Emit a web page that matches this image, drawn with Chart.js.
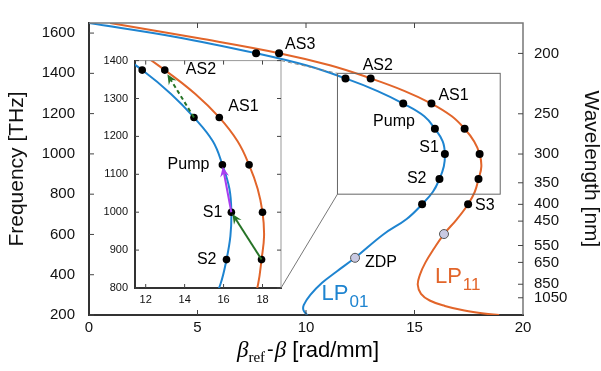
<!DOCTYPE html>
<html>
<head>
<meta charset="utf-8">
<script src="https://cdn.jsdelivr.net/npm/chart.js@4.4.0/dist/chart.umd.min.js"></script>
<style>
  html, body { margin: 0; padding: 0; background: #fff; overflow: hidden; }
  #wrap { position: relative; width: 601px; height: 371px; }
  #mainChart { position: absolute; left: 0; top: 0; }
  #insetChart { position: absolute; left: 95px; top: 47px; }
</style>
</head>
<body>
<div id="wrap">
  <canvas id="mainChart" width="601" height="371"></canvas>
  <canvas id="insetChart" width="195" height="265"></canvas>
</div>
<script>
// frequency lines (THz) where the black dots sit
const lineNames = ['S3', 'S2', 'S1', 'Pump', 'AS1', 'AS2', 'AS3'];
const lineFreq = [750, 875, 1000, 1125, 1250, 1375, 1500];
const lp01DotBeta = [15.35, 16.15, 16.4, 15.94, 14.48, 11.82, 7.7];
const lp11DotBeta = [17.47, 17.95, 18.0, 17.31, 15.78, 12.98, 8.76];

// LP01 dispersion curve
const lp01Beta = [0, 4, 7.7, 10.0, 11.82, 13.3, 14.48, 15.45, 15.94, 16.3, 16.4, 16.35, 16.15, 15.85, 15.35,
                  14.64, 13.56, 12.26, 11.4, 10.74, 10.2, 9.9, 9.88, 10.05];
const lp01Freq = [1650, 1581, 1500, 1440, 1375, 1312, 1250, 1187, 1125, 1062, 1000, 937, 875, 812, 750,
                  677, 600, 484, 415, 360, 300, 250, 225, 200];

// LP11 dispersion curve
const lp11Beta = [0.97, 5, 8.76, 11.1, 12.98, 14.55, 15.78, 16.72, 17.31, 17.75, 18.0, 18.08, 17.95, 17.78, 17.47,
                  16.95, 16.36, 15.9, 15.5, 15.25, 15.15, 15.3, 15.7, 16.4, 17.3, 18.2, 18.9];
const lp11Freq = [1650, 1575, 1500, 1440, 1375, 1312, 1250, 1187, 1125, 1062, 1000, 937, 875, 812, 750,
                  675, 602, 530, 460, 400, 350, 305, 272, 245, 222, 207, 200];

// zero dispersion points
const zdpBeta = [12.26, 16.36];
const zdpFreq = [484, 602];

// axes
const xTicks = [0, 5, 10, 15, 20];
const yTicks = [200, 400, 600, 800, 1000, 1200, 1400, 1600];
const wavelengthTicks = [200, 250, 300, 350, 400, 450, 550, 650, 850, 1050];
const insetXTicks = [12, 14, 16, 18];
const insetYTicks = [800, 900, 1000, 1100, 1200, 1300, 1400];
const insetRange = { xMin: 11.45, xMax: 18.95, yMin: 800, yMax: 1400 };

const C_NM_THZ = 299792.458;
const BLUE = '#1e84d0';
const ORANGE = '#e2652a';
const GREEN = '#267326';
const PURPLE = '#a83ef0';
const SANS = '"Liberation Sans", Arial, sans-serif';
const SERIF = '"Liberation Serif", "Times New Roman", serif';

Chart.defaults.font.family = SANS;
Chart.defaults.color = '#111';

const toPts = (xs, ys) => xs.map((x, i) => ({ x: x, y: ys[i] }));
const plain = v => String(v);

function curveSets(dotRadius) {
    return [
        { data: toPts(zdpBeta, zdpFreq), showLine: false, pointRadius: dotRadius + 0.5,
          pointBackgroundColor: '#c9c9e2', pointBorderColor: '#555', pointBorderWidth: 1 },
        { data: toPts(lp01DotBeta, lineFreq), showLine: false, pointRadius: dotRadius,
          pointBackgroundColor: '#000', pointBorderWidth: 0 },
        { data: toPts(lp11DotBeta, lineFreq), showLine: false, pointRadius: dotRadius,
          pointBackgroundColor: '#000', pointBorderWidth: 0 },
        { data: toPts(lp01Beta, lp01Freq), showLine: true, pointRadius: 0, borderColor: BLUE,
          borderWidth: 2, tension: 0.4 },
        { data: toPts(lp11Beta, lp11Freq), showLine: true, pointRadius: 0, borderColor: ORANGE,
          borderWidth: 2, tension: 0.4 }
    ];
}

// short tick marks pointing into the plot
function inTick(ctx, x1, y1, x2, y2) {
    ctx.beginPath();
    ctx.moveTo(x1, y1);
    ctx.lineTo(x2, y2);
    ctx.stroke();
}

function drawLabel(ctx, text, px, py, dx, dy, align, font) {
    ctx.save();
    ctx.font = font;
    ctx.fillStyle = '#000';
    ctx.textAlign = align;
    ctx.textBaseline = 'middle';
    ctx.fillText(text, px + dx, py + dy);
    ctx.restore();
}

function drawArrow(ctx, x1, y1, x2, y2, shorten, color, dashed) {
    const ang = Math.atan2(y2 - y1, x2 - x1);
    const c = Math.cos(ang), s = Math.sin(ang);
    const tx = x2 - shorten * c, ty = y2 - shorten * s;
    const head = 10, wid = 4.5;
    const bx = tx - head * c, by = ty - head * s;
    ctx.save();
    ctx.strokeStyle = color;
    ctx.fillStyle = color;
    ctx.lineWidth = 2;
    if (dashed) ctx.setLineDash([4, 3]);
    ctx.beginPath();
    ctx.moveTo(x1, y1);
    ctx.lineTo(tx - head * 0.6 * c, ty - head * 0.6 * s);
    ctx.stroke();
    ctx.setLineDash([]);
    ctx.beginPath();
    ctx.moveTo(tx, ty);
    ctx.lineTo(bx - wid * s, by + wid * c);
    ctx.lineTo(tx - head * 0.65 * c, ty - head * 0.65 * s);
    ctx.lineTo(bx + wid * s, by - wid * c);
    ctx.closePath();
    ctx.fill();
    ctx.restore();
}

// ---------- inset ----------
const insetDecor = {
    id: 'insetDecor',
    beforeDraw(chart) {
        const { ctx, chartArea: a } = chart;
        ctx.save();
        ctx.fillStyle = '#fff';
        ctx.fillRect(a.left, a.top, a.right - a.left, a.bottom - a.top);
        ctx.restore();
    },
    afterDraw(chart) {
        const { ctx, chartArea: a, scales: { x, y } } = chart;
        ctx.save();
        ctx.strokeStyle = '#999';
        ctx.lineWidth = 1;
        ctx.beginPath();
        ctx.moveTo(a.left, a.top);
        ctx.lineTo(a.right, a.top);
        ctx.lineTo(a.right, a.bottom);
        ctx.stroke();
        ctx.strokeStyle = '#444';
        insetYTicks.forEach(v => {
            const py = y.getPixelForValue(v);
            inTick(ctx, a.left, py, a.left + 4, py);
            inTick(ctx, a.right, py, a.right - 4, py);
        });
        insetXTicks.forEach(v => {
            const px = x.getPixelForValue(v);
            inTick(ctx, px, a.bottom, px, a.bottom - 4);
            inTick(ctx, px, a.top, px, a.top + 4);
        });
        ctx.restore();

        const p01 = i => [x.getPixelForValue(lp01DotBeta[i]), y.getPixelForValue(lineFreq[i])];
        const p11 = i => [x.getPixelForValue(lp11DotBeta[i]), y.getPixelForValue(lineFreq[i])];

        // AS1 (LP01) -> AS2 (LP11), dashed
        drawArrow(ctx, ...p01(4), ...p11(5), 5, GREEN, true);
        // S1 -> Pump along LP01
        drawArrow(ctx, ...p01(2), ...p01(3), 2, PURPLE, false);
        // S2 (LP11) -> S1 (LP01)
        drawArrow(ctx, ...p11(1), ...p01(2), 2, GREEN, false);

        const f = '16px ' + SANS;
        drawLabel(ctx, 'AS2', ...p11(5), 21, 0, 'left', f);
        drawLabel(ctx, 'AS1', ...p11(4), 9, -11, 'left', f);
        drawLabel(ctx, 'Pump', ...p01(3), -13, 0, 'right', f);
        drawLabel(ctx, 'S1', ...p01(2), -9, 0, 'right', f);
        drawLabel(ctx, 'S2', ...p01(1), -10, 0, 'right', f);
    }
};

const insetChart = new Chart(document.getElementById('insetChart'), {
    type: 'scatter',
    data: { datasets: curveSets(3.8) },
    options: {
        responsive: false,
        animation: false,
        events: [],
        layout: { padding: { top: 10, right: 9, left: 0, bottom: 0 } },
        plugins: { legend: { display: false }, tooltip: { enabled: false } },
        scales: {
            x: {
                type: 'linear', min: insetRange.xMin, max: insetRange.xMax,
                afterBuildTicks: s => { s.ticks = insetXTicks.map(v => ({ value: v })); },
                afterFit: s => { s.height = 24; },
                grid: { display: false, drawTicks: false },
                border: { display: true, color: '#333', width: 2 },
                ticks: { font: { size: 11 }, padding: 5, maxRotation: 0, autoSkip: false, callback: plain }
            },
            y: {
                type: 'linear', min: insetRange.yMin, max: insetRange.yMax,
                afterBuildTicks: s => { s.ticks = insetYTicks.map(v => ({ value: v })); },
                afterFit: s => { s.width = 40; },
                grid: { display: false, drawTicks: false },
                border: { display: true, color: '#333', width: 2 },
                ticks: { font: { size: 11 }, padding: 7, autoSkip: false, callback: plain }
            }
        }
    },
    plugins: [insetDecor]
});

// ---------- main chart ----------
const mainDecor = {
    id: 'mainDecor',
    afterDraw(chart) {
        const { ctx, chartArea: a, scales: { x, y } } = chart;
        ctx.save();
        // top / right frame
        ctx.strokeStyle = '#777';
        ctx.lineWidth = 1.5;
        ctx.beginPath();
        ctx.moveTo(a.left, a.top);
        ctx.lineTo(a.right, a.top);
        ctx.lineTo(a.right, a.bottom);
        ctx.stroke();

        // inward ticks
        ctx.strokeStyle = '#444';
        ctx.lineWidth = 1;
        yTicks.forEach(v => {
            const py = y.getPixelForValue(v);
            inTick(ctx, a.left, py, a.left + 5, py);
        });
        xTicks.slice(1, -1).forEach(v => {
            const px = x.getPixelForValue(v);
            inTick(ctx, px, a.bottom, px, a.bottom - 5);
            inTick(ctx, px, a.top, px, a.top + 5);
        });
        wavelengthTicks.forEach(w => {
            const py = y.getPixelForValue(C_NM_THZ / w);
            inTick(ctx, a.right, py, a.right - 5, py);
        });

        // zoom rectangle and connectors to the inset
        const rl = x.getPixelForValue(insetRange.xMin), rr = x.getPixelForValue(insetRange.xMax);
        const rt = y.getPixelForValue(insetRange.yMax), rb = y.getPixelForValue(insetRange.yMin);
        ctx.strokeStyle = '#666';
        ctx.lineWidth = 1;
        ctx.strokeRect(rl, rt, rr - rl, rb - rt);
        const ia = insetChart.chartArea;
        const ox = 95, oy = 47;
        ctx.strokeStyle = '#888';
        ctx.setLineDash([4, 3]);
        ctx.beginPath();
        ctx.moveTo(ox + ia.right, oy + ia.top);
        ctx.lineTo(rl, rt);
        ctx.stroke();
        ctx.setLineDash([]);
        ctx.strokeStyle = '#777';
        ctx.beginPath();
        ctx.moveTo(ox + ia.right, oy + ia.bottom);
        ctx.lineTo(rl, rb);
        ctx.stroke();
        ctx.restore();

        // point labels
        const p01 = i => [x.getPixelForValue(lp01DotBeta[i]), y.getPixelForValue(lineFreq[i])];
        const p11 = i => [x.getPixelForValue(lp11DotBeta[i]), y.getPixelForValue(lineFreq[i])];
        const f = '16px ' + SANS;
        drawLabel(ctx, 'AS3', ...p11(6), 6, -9, 'left', f);
        drawLabel(ctx, 'AS2', ...p11(5), -8, -13, 'left', f);
        drawLabel(ctx, 'AS1', ...p11(4), 7, -8, 'left', f);
        drawLabel(ctx, 'Pump', ...p01(3), -20, -7, 'right', f);
        drawLabel(ctx, 'S1', ...p01(2), -6, -6, 'right', f);
        drawLabel(ctx, 'S2', ...p01(1), -13, 0, 'right', f);
        drawLabel(ctx, 'S3', ...p11(0), 7, 1, 'left', f);
        drawLabel(ctx, 'ZDP', x.getPixelForValue(zdpBeta[0]), y.getPixelForValue(zdpFreq[0]), 10, 5, 'left', f);

        // mode names
        ctx.save();
        ctx.textBaseline = 'alphabetic';
        ctx.textAlign = 'left';
        [[BLUE, 'LP', '01', 10.72, 274], [ORANGE, 'LP', '11', 15.94, 360]].forEach(m => {
            const px = x.getPixelForValue(m[3]), py = y.getPixelForValue(m[4]);
            ctx.fillStyle = m[0];
            ctx.font = '22px ' + SANS;
            ctx.fillText(m[1], px, py);
            const w = ctx.measureText(m[1]).width;
            ctx.font = '17px ' + SANS;
            ctx.fillText(m[2], px + w + 1, py + 7);
        });

        // x-axis title: beta_ref - beta [rad/mm]
        const parts = [
            { t: '\u03b2', font: 'italic 23px ' + SERIF, dy: 0, gap: 0 },
            { t: 'ref', font: '15px ' + SERIF, dy: 5, gap: 2 },
            { t: '-', font: '20px ' + SANS, dy: -1, gap: 1 },
            { t: '\u03b2', font: 'italic 23px ' + SERIF, dy: 0, gap: 0 },
            { t: ' [rad/mm]', font: '22px ' + SANS, dy: 0, gap: 0 }
        ];
        let total = 0;
        parts.forEach(p => { ctx.font = p.font; p.w = ctx.measureText(p.t).width + p.gap; total += p.w; });
        let cx = (a.left + a.right) / 2 + 2 - total / 2;
        const base = 357;
        ctx.fillStyle = '#000';
        parts.forEach(p => {
            ctx.font = p.font;
            ctx.fillText(p.t, cx, base + p.dy);
            cx += p.w;
        });
        ctx.restore();
    }
};

const mainChart = new Chart(document.getElementById('mainChart'), {
    type: 'scatter',
    data: { datasets: curveSets(4) },
    options: {
        responsive: false,
        animation: false,
        events: [],
        layout: { padding: { top: 8, right: 0, left: 0, bottom: 0 } },
        plugins: { legend: { display: false }, tooltip: { enabled: false } },
        scales: {
            x: {
                type: 'linear', min: 0, max: 20,
                afterBuildTicks: s => { s.ticks = xTicks.map(v => ({ value: v })); },
                afterFit: s => { s.height = 56; },
                grid: { display: false, drawTicks: false },
                border: { display: true, color: '#333', width: 2 },
                ticks: { font: { size: 15 }, padding: 4, maxRotation: 0, autoSkip: false, callback: plain }
            },
            y: {
                type: 'linear', min: 200, max: 1650,
                afterBuildTicks: s => { s.ticks = yTicks.map(v => ({ value: v })); },
                afterFit: s => { s.width = 89; },
                grid: { display: false, drawTicks: false },
                border: { display: true, color: '#333', width: 2 },
                ticks: { font: { size: 15 }, padding: 14, autoSkip: false, callback: plain },
                title: { display: true, text: 'Frequency [THz]', font: { size: 21 }, padding: { top: 5, bottom: 0 } }
            },
            y2: {
                type: 'linear', position: 'right', min: 200, max: 1650,
                afterBuildTicks: s => { s.ticks = wavelengthTicks.map(w => ({ value: C_NM_THZ / w })); },
                afterFit: s => { s.width = 78; },
                grid: { display: false, drawTicks: false },
                border: { display: false },
                ticks: { font: { size: 15 }, padding: 11, autoSkip: false,
                         callback: (v, i) => String(wavelengthTicks[i]) },
                title: { display: true, text: 'Wavelength [nm]', font: { size: 21, lineHeight: 1 }, padding: { top: 0, bottom: 0 } }
            }
        }
    },
    plugins: [mainDecor]
});
</script>
</body>
</html>
